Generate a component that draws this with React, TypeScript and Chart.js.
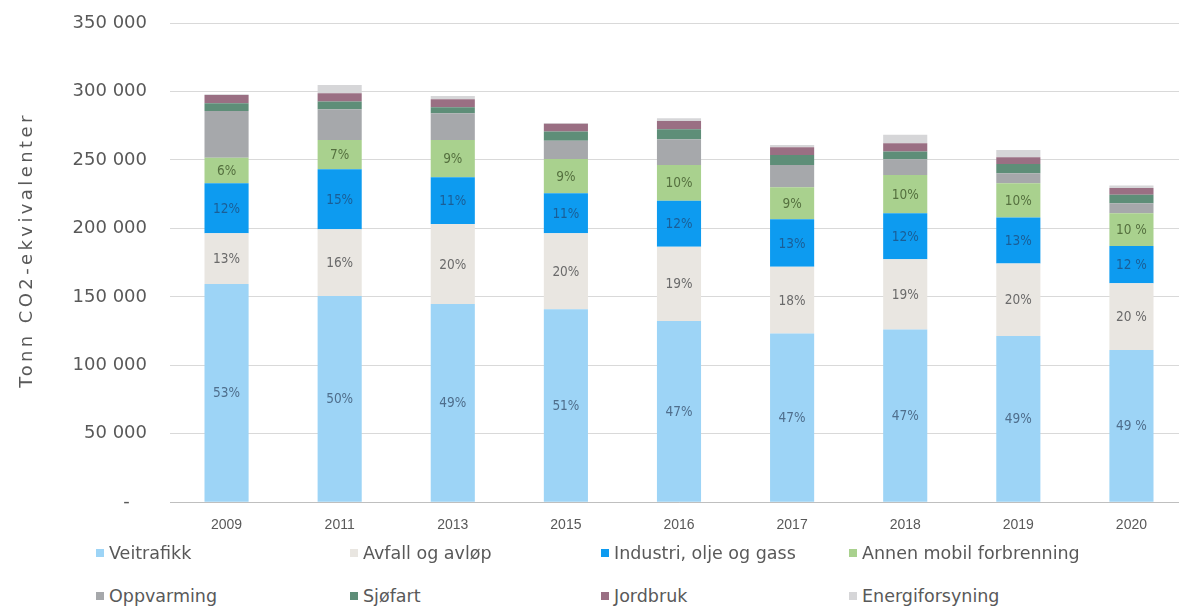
import { useEffect, useRef } from 'react';
import { Chart, registerables } from 'chart.js';

Chart.register(...registerables);

const years = ['2009', '2011', '2013', '2015', '2016', '2017', '2018', '2019', '2020'];

const veitrafikk = [159400, 150600, 144700, 140900, 132300, 123300, 126200, 121300, 111100];
const avfall = [37000, 48700, 58500, 55600, 54300, 48700, 51200, 53100, 48800];
const industri = [36500, 43900, 34100, 29200, 33600, 34600, 33600, 33600, 27300];
const annenMobil = [18700, 21400, 27300, 24900, 26100, 23400, 28000, 24900, 23900];
const oppvarming = [34100, 22400, 19500, 13400, 18800, 16300, 11500, 7300, 7300];
const sjofart = [5600, 5600, 4400, 6800, 7300, 7300, 5600, 6800, 6100];
const jordbruk = [6100, 6100, 5800, 5600, 6100, 5600, 6100, 4900, 4900];
const energiforsyning = [500, 6100, 2400, 500, 2000, 1700, 6100, 5300, 2000];

const veitrafikkPct = ['53%', '50%', '49%', '51%', '47%', '47%', '47%', '49%', '49 %'];
const avfallPct = ['13%', '16%', '20%', '20%', '19%', '18%', '19%', '20%', '20 %'];
const industriPct = ['12%', '15%', '11%', '11%', '12%', '13%', '12%', '13%', '12 %'];
const annenPct = ['6%', '7%', '9%', '9%', '10%', '9%', '10%', '10%', '10 %'];

const yTicks = [0, 50000, 100000, 150000, 200000, 250000, 300000, 350000];
const yTitle = 'Tonn CO2-ekvivalenter';

const seriesNames = [
  'Veitrafikk',
  'Avfall og avløp',
  'Industri, olje og gass',
  'Annen mobil forbrenning',
  'Oppvarming',
  'Sjøfart',
  'Jordbruk',
  'Energiforsyning',
];
const seriesColors = ['#9dd4f6', '#e9e6e1', '#0d9bf0', '#a9d18e', '#a6a8ab', '#5e8e78', '#9a6f83', '#d6d6d8'];
const labelColors = ['#4f6e8c', '#6a6a6a', '#1b5e96', '#55703f'];

const seriesValues = [veitrafikk, avfall, industri, annenMobil, oppvarming, sjofart, jordbruk, energiforsyning];
const seriesLabels = [veitrafikkPct, avfallPct, industriPct, annenPct];

const legendPos = [
  [96, 553], [350, 553], [601, 553], [849, 553],
  [96, 596], [350, 596], [601, 596], [849, 596],
];

const W = 1192;
const H = 549;

function fmt(v: number) {
  if (v === 0) return '-   ';
  const s = String(Math.round(v));
  return s.replace(/\B(?=(\d{3})+(?!\d))/g, ' ');
}

export default function App() {
  const ref = useRef<HTMLCanvasElement>(null);

  useEffect(() => {
    if (!ref.current) return;

    const segLabels = {
      id: 'segLabels',
      afterDatasetsDraw(chart: any) {
        const ctx = chart.ctx;
        chart.data.datasets.forEach((ds: any, di: number) => {
          const labels = seriesLabels[di];
          if (!labels) return;
          const meta = chart.getDatasetMeta(di);
          meta.data.forEach((el: any, i: number) => {
            const p = el.getProps(['x', 'y', 'base'], true);
            ctx.save();
            ctx.font = '13.5px "DejaVu Sans Condensed", "DejaVu Sans", sans-serif';
            ctx.fillStyle = labelColors[di];
            ctx.textAlign = 'center';
            ctx.textBaseline = 'middle';
            ctx.fillText(labels[i], p.x, (p.y + p.base) / 2 + 1);
            ctx.restore();
          });
        });
      },
    };

    const yTitlePlugin = {
      id: 'yTitle',
      afterDraw(chart: any) {
        const ctx = chart.ctx;
        ctx.save();
        ctx.translate(27, 250);
        ctx.rotate(-Math.PI / 2);
        (ctx as any).letterSpacing = '3.4px';
        ctx.font = '18px "DejaVu Sans", sans-serif';
        ctx.fillStyle = '#595959';
        ctx.textAlign = 'center';
        ctx.textBaseline = 'middle';
        ctx.fillText(yTitle, 0, 0);
        ctx.restore();
      },
    };

    const chart = new Chart(ref.current, {
      type: 'bar',
      data: {
        labels: years,
        datasets: seriesNames.map((name, i) => ({
          label: name,
          data: seriesValues[i],
          backgroundColor: seriesColors[i],
          borderWidth: 0,
          barPercentage: 0.39,
          categoryPercentage: 1.0,
        })),
      },
      options: {
        responsive: false,
        animation: false,
        layout: { padding: { top: 23, right: 4, bottom: 8, left: 0 } },
        plugins: {
          legend: { display: false },
          tooltip: { enabled: false },
        },
        scales: {
          x: {
            stacked: true,
            grid: { display: false },
            border: { display: true, color: '#bfbfbf', width: 1 },
            ticks: {
              color: '#595959',
              font: { family: '"Liberation Sans Narrow", "Liberation Sans", sans-serif', size: 14 },
              padding: 7,
              maxRotation: 0,
            },
          },
          y: {
            stacked: true,
            min: 0,
            max: 350000,
            afterFit(s: any) {
              s.width = 170;
            },
            afterBuildTicks(s: any) {
              s.ticks = yTicks.map((v) => ({ value: v }));
            },
            ticks: {
              color: '#595959',
              font: { family: '"DejaVu Sans", sans-serif', size: 18 },
              padding: 4,
              callback: (v: any) => fmt(Number(v)),
            },
            grid: {
              color: '#d9d9d9',
              lineWidth: 1,
              drawTicks: true,
              tickLength: 19,
              tickColor: 'rgba(0,0,0,0)',
            },
            border: { display: false },
          },
        },
      },
      plugins: [segLabels, yTitlePlugin],
    });

    return () => chart.destroy();
  }, []);

  return (
    <div
      style={{
        position: 'fixed',
        left: 0,
        top: 0,
        width: 1179,
        height: 606,
        overflow: 'hidden',
        background: '#ffffff',
      }}
    >
      <canvas ref={ref} width={W} height={H} style={{ position: 'absolute', left: 0, top: 0 }} />
      {seriesNames.map((name, i) => (
        <div
          key={name}
          style={{
            position: 'absolute',
            left: legendPos[i][0],
            top: legendPos[i][1] - 11,
            height: 22,
            display: 'flex',
            alignItems: 'center',
            whiteSpace: 'nowrap',
            font: '17.5px "DejaVu Sans", sans-serif',
            color: '#595959',
          }}
        >
          <span
            style={{
              display: 'inline-block',
              width: 8,
              height: 8,
              background: seriesColors[i],
              marginRight: 5,
            }}
          />
          {name}
        </div>
      ))}
    </div>
  );
}
